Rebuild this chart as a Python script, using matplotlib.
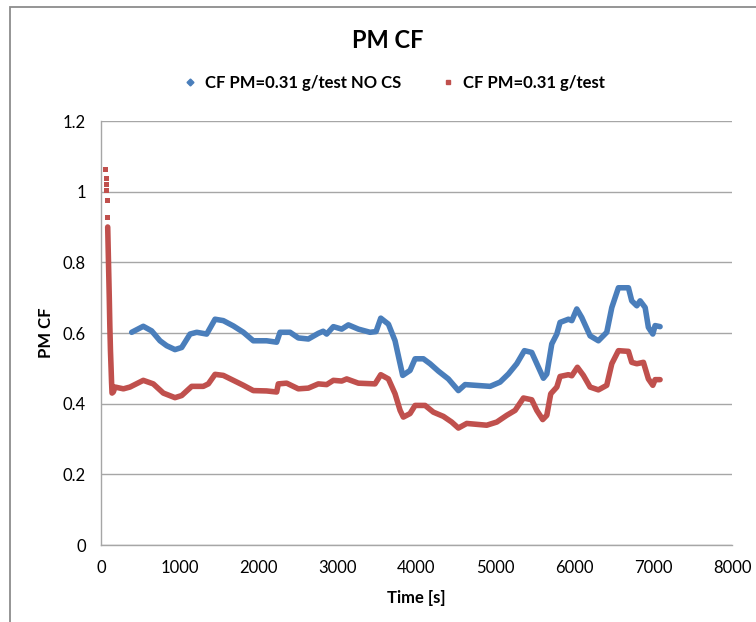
import numpy as np
import matplotlib.pyplot as plt
from matplotlib.lines import Line2D
from matplotlib.patches import Rectangle

plt.rcParams['font.family'] = ['Lato', 'DejaVu Sans']

# red series, first seconds (separate dots at the top of the spike)
red_dots_t = [50, 58, 63, 68, 73, 79]
red_dots_v = [1.064, 1.038, 1.023, 1.006, 0.977, 0.928]

# CF PM=0.31 g/test
red_t = [85, 95, 105, 112, 120, 128, 134, 140, 156, 178, 284, 367, 536, 663, 790, 938,
         1023, 1150, 1297, 1361, 1446, 1551, 1678, 1805, 1931, 2100, 2227, 2248, 2354,
         2502, 2629, 2755, 2861, 2946, 3052, 3115, 3263, 3474, 3547, 3644, 3728, 3792,
         3833, 3918, 3982, 4109, 4214, 4341, 4446, 4531, 4637, 4890, 5018, 5144, 5250,
         5356, 5461, 5525, 5600, 5652, 5702, 5779, 5820, 5926, 5969, 6040, 6116, 6201,
         6306, 6412, 6476, 6560, 6687, 6729, 6793, 6877, 6940, 6996, 7025, 7088]
red_v = [0.90, 0.80, 0.70, 0.62, 0.55, 0.50, 0.46, 0.43, 0.433, 0.447, 0.442, 0.447,
         0.466, 0.456, 0.430, 0.417, 0.423, 0.449, 0.449, 0.456, 0.483, 0.480, 0.466,
         0.452, 0.437, 0.436, 0.433, 0.456, 0.458, 0.442, 0.444, 0.456, 0.454, 0.466,
         0.464, 0.470, 0.458, 0.456, 0.482, 0.470, 0.428, 0.381, 0.362, 0.372, 0.395,
         0.395, 0.376, 0.364, 0.348, 0.331, 0.344, 0.339, 0.348, 0.367, 0.381, 0.416,
         0.411, 0.381, 0.355, 0.367, 0.428, 0.447, 0.477, 0.482, 0.479, 0.503, 0.480,
         0.447, 0.439, 0.452, 0.513, 0.550, 0.548, 0.517, 0.513, 0.517, 0.470, 0.452,
         0.468, 0.468]

# CF PM=0.31 g/test NO CS
blue_t = [389, 536, 642, 748, 833, 938, 1023, 1129, 1214, 1340, 1446, 1551, 1678, 1805,
          1931, 2100, 2227, 2270, 2397, 2502, 2629, 2755, 2817, 2861, 2946, 3052, 3136,
          3263, 3411, 3487, 3547, 3644, 3728, 3783, 3825, 3918, 3982, 4087, 4172, 4278,
          4404, 4531, 4616, 4742, 4933, 5059, 5165, 5271, 5368, 5461, 5546, 5609, 5652,
          5715, 5779, 5820, 5926, 5969, 6032, 6095, 6201, 6306, 6412, 6476, 6560, 6687,
          6729, 6793, 6835, 6899, 6940, 6996, 7025, 7088]
blue_v = [0.602, 0.619, 0.606, 0.578, 0.564, 0.553, 0.559, 0.597, 0.602, 0.597, 0.639,
          0.635, 0.620, 0.602, 0.578, 0.578, 0.574, 0.602, 0.602, 0.586, 0.583, 0.599,
          0.605, 0.597, 0.618, 0.611, 0.623, 0.611, 0.602, 0.604, 0.642, 0.625, 0.578,
          0.522, 0.480, 0.494, 0.527, 0.527, 0.513, 0.492, 0.470, 0.437, 0.454, 0.452,
          0.449, 0.461, 0.484, 0.513, 0.550, 0.545, 0.503, 0.472, 0.484, 0.569, 0.597,
          0.630, 0.639, 0.635, 0.668, 0.644, 0.592, 0.578, 0.602, 0.672, 0.728, 0.728,
          0.691, 0.677, 0.691, 0.672, 0.616, 0.597, 0.621, 0.618]

labels = ['CF PM=0.31 g/test NO CS', 'CF PM=0.31 g/test']
blue = '#4A7EBB'
red = '#C0504D'
grid_col = '#A6A6A6'

fig = plt.figure(figsize=(7.56, 6.22), dpi=100)
fig.patches.append(Rectangle((10/756, -0.1), 1.2, 0.1 + 615/622, transform=fig.transFigure,
                             fill=False, edgecolor='#8C8C8C', lw=1.3))

ax = fig.add_axes([101/756, 77/622, 631/756, 424/622])
ax.plot(blue_t, blue_v, color=blue, lw=4, solid_capstyle='round', solid_joinstyle='round')
ax.plot(red_t, red_v, color=red, lw=4, solid_capstyle='round', solid_joinstyle='round')
ax.plot(red_dots_t, red_dots_v, 's', color=red, ms=3.6, mew=0)

ax.set_xlim(0, 8000)
ax.set_ylim(0, 1.2)
ax.set_xticks(np.arange(0, 8001, 1000))
ax.set_yticks([0, 0.2, 0.4, 0.6, 0.8, 1.0, 1.2])
ax.set_yticklabels(['0', '0.2', '0.4', '0.6', '0.8', '1', '1.2'])
ax.yaxis.grid(True, color=grid_col, lw=1)
ax.set_axisbelow(True)
for s in ['top', 'right']:
    ax.spines[s].set_visible(False)
for s in ['left', 'bottom']:
    ax.spines[s].set_color(grid_col)
    ax.spines[s].set_linewidth(1)
ax.tick_params(length=0, labelsize=12, pad=11)

ax.set_xlabel('Time [s]', fontsize=12, fontweight='bold', labelpad=10)
ax.set_ylabel('PM CF', fontsize=12, fontweight='bold', labelpad=6)

fig.text(0.513, 1 - 40/622, 'PM CF', ha='center', va='center', fontsize=17, fontweight='bold')

handles = [Line2D([], [], ls='none', marker='D', color=blue, ms=3.5),
           Line2D([], [], ls='none', marker='s', color=red, ms=3.5)]
fig.legend(handles, labels, loc='center', bbox_to_anchor=(0.521, 1 - 83/622), ncol=2,
           frameon=False, handlelength=0.8, handletextpad=0.5, columnspacing=2.4,
           prop={'weight': 'bold', 'size': 12})

fig.savefig('out.png', dpi=100)
